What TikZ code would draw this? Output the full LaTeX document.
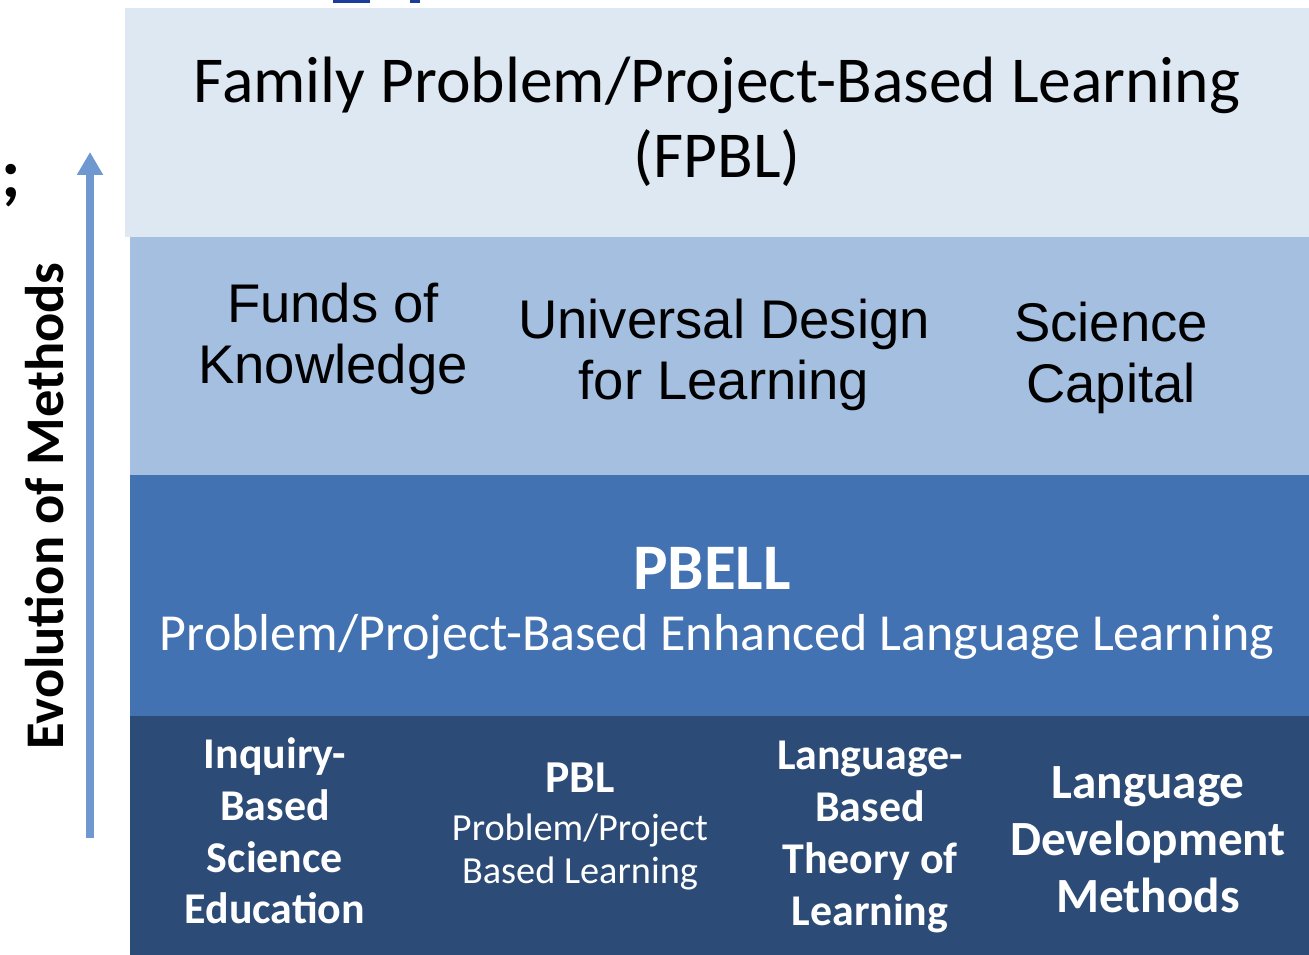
\documentclass[tikz,border=0pt]{standalone}
\usepackage{fontspec}
\setmainfont{Carlito}
\newfontfamily\arialfont{Liberation Sans}
\usetikzlibrary{arrows.meta}

\definecolor{bandtop}{HTML}{DEE8F3}
\definecolor{bandlight}{HTML}{A4BFE0}
\definecolor{bandmid}{HTML}{4272B2}
\definecolor{banddark}{HTML}{2C4C77}
\definecolor{arrowblue}{HTML}{6E98CF}
\definecolor{linkblue}{HTML}{1A3C9A}

\tikzset{
  toptext/.style={align=center, text=black, font=\fontsize{37.3}{43}\selectfont},
  ariatext/.style={align=center, text=black, font=\arialfont\fontsize{31}{35}\selectfont},
  boldtext/.style={align=center, text=white, font=\bfseries\fontsize{25}{29.5}\selectfont},
  smalltext/.style={align=center, text=white, font=\fontsize{21.8}{24.5}\selectfont}
}

\begin{document}
\begin{tikzpicture}[x=0.02cm, y=-0.02cm]
\useasboundingbox (0,0) rectangle (1309,955);

% bands
\fill[bandtop]   (125,8)   rectangle (1309,237);
\fill[bandlight] (130,237) rectangle (1309,475);
\fill[bandmid]   (130,475) rectangle (1309,716);
\fill[banddark]  (130,716) rectangle (1309,955);

% cut-off link at the top
\fill[linkblue] (333,0) rectangle (370,3);
\fill[linkblue] (410,0) rectangle (420,3);
\draw (11,186) node (semi) [font=\bfseries\fontsize{40}{40}\selectfont] {;};

% arrow
\coordinate (arrowfoot) at (90,838);
\coordinate (arrowtip)  at (90,152);
\draw[arrowblue, line width=4pt, -{Triangle[length=13pt, width=14pt]}] (arrowfoot) -- (arrowtip);
\draw (45,506) node (evo) [rotate=90, font=\bfseries\fontsize{31}{31}\selectfont] {Evolution of Methods};

% top band
\draw (717,122) node (fpbl) [toptext] {Family Problem/Project-Based Learning\\(FPBL)};

% second band
\draw (333,339)  node (funds)   [ariatext] {Funds of\\Knowledge};
\draw (724,355)  node (udl)     [ariatext] {Universal Design\\for Learning};
\draw (1111,358) node (capital) [ariatext] {Science\\Capital};

% third band
\draw (712,568) node (pbell)  [text=white, font=\bfseries\fontsize{37}{37}\selectfont] {PBELL};
\draw (717,637) node (pbellsub) [text=white, font=\fontsize{29.6}{32}\selectfont] {Problem/Project-Based Enhanced Language Learning};

% bottom band
\draw (275,831)  node (inquiry) [boldtext] {Inquiry-\\Based\\Science\\Education};
\draw (580,778)  node (pbl)     [boldtext, font=\bfseries\fontsize{26}{29.5}\selectfont] {PBL};
\draw (580,852)  node (pblsub)  [smalltext] {Problem/Project\\Based Learning};
\draw (870,837)  node (langtheory) [boldtext] {Language-\\Based\\Theory of\\Learning};
\draw (1148,840) node (langdev) [boldtext, font=\bfseries\fontsize{28}{32.5}\selectfont] {Language\\Development\\Methods};
\end{tikzpicture}
\end{document}
